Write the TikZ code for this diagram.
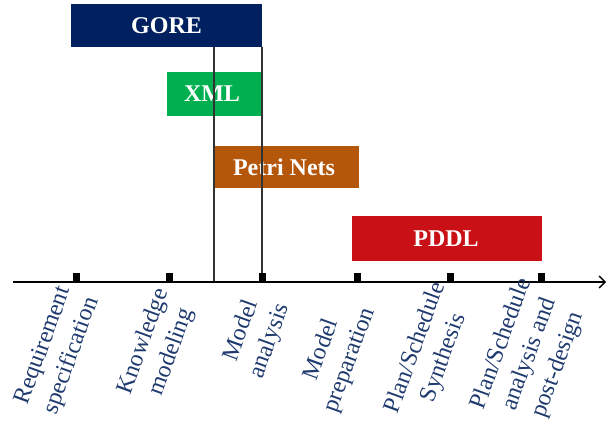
\documentclass[tikz,border=0pt]{standalone}
\usepackage{fontspec}
\setmainfont{Liberation Serif}
\usetikzlibrary{arrows.meta}
\definecolor{goreblue}{HTML}{002060}
\definecolor{xmlgreen}{HTML}{00B050}
\definecolor{petriorange}{HTML}{B5570B}
\definecolor{pddlred}{HTML}{C81016}
\definecolor{labelblue}{HTML}{1F3A6E}
\begin{document}
\begin{tikzpicture}[x=1pt,y=1pt,
  bar/.style={draw=none, inner sep=0pt, text=white, font=\fontsize{24}{28}\selectfont\bfseries},
  phase/.style={rotate=70, align=center, text=labelblue, inner sep=0pt,
    font=\fontsize{24}{30}\selectfont},
  tick/.style={fill=black, draw=none, minimum width=7pt, minimum height=9pt, inner sep=0pt, anchor=south},
  vline/.style={draw=black!80, line width=1.2pt},
  axisline/.style={draw=black, line width=1.4pt, -{Straight Barb[length=6pt,width=12pt,line width=1.4pt]}}]
\useasboundingbox (0,0) rectangle (609,-425);
% bars
\fill[goreblue] (71,-4) rectangle (262,-47);
\node[bar] (gore) at (166.5,-25.5) {GORE};
\fill[xmlgreen] (167,-72) rectangle (262,-116);
\node[bar] (xml) at (212,-94) {XML};
\fill[petriorange] (214,-146) rectangle (359,-188);
\node[bar] (petri) at (284,-167) {Petri Nets};
\fill[pddlred] (352,-216) rectangle (542,-261);
\node[bar] (pddl) at (446,-238.5) {PDDL};
% axis
\coordinate (a0) at (13,-282);
\coordinate (a1) at (606,-282);
\coordinate (gl) at (214,-47);
\coordinate (gr) at (262,-47);
\coordinate (al) at (214,-282);
\coordinate (ar) at (262,-282);
\draw[vline] (gl) -- (al);
\draw[vline] (gr) -- (ar);
\draw[axisline] (a0) -- (a1);
\node[tick] (t1) at (76,-282) {};
\node[tick] (t2) at (169,-282) {};
\node[tick] (t3) at (262,-282) {};
\node[tick] (t4) at (357,-282) {};
\node[tick] (t5) at (450,-282) {};
\node[tick] (t6) at (541,-282) {};
% labels
\node[phase] (l1) at (58,-351) {Requirement\\specification};
\node[phase] (l2) at (158,-347) {Knowledge\\modeling};
\node[phase] (l3) at (256,-336) {Model\\analysis};
\node[phase] (l4) at (336,-355) {Model\\preparation};
\node[phase] (l5) at (430,-353) {Plan/Schedule\\Synthesis};
\node[phase] (l6) at (530,-354.5) {Plan/Schedule\\analysis and\\post-design};
\end{tikzpicture}
\end{document}
